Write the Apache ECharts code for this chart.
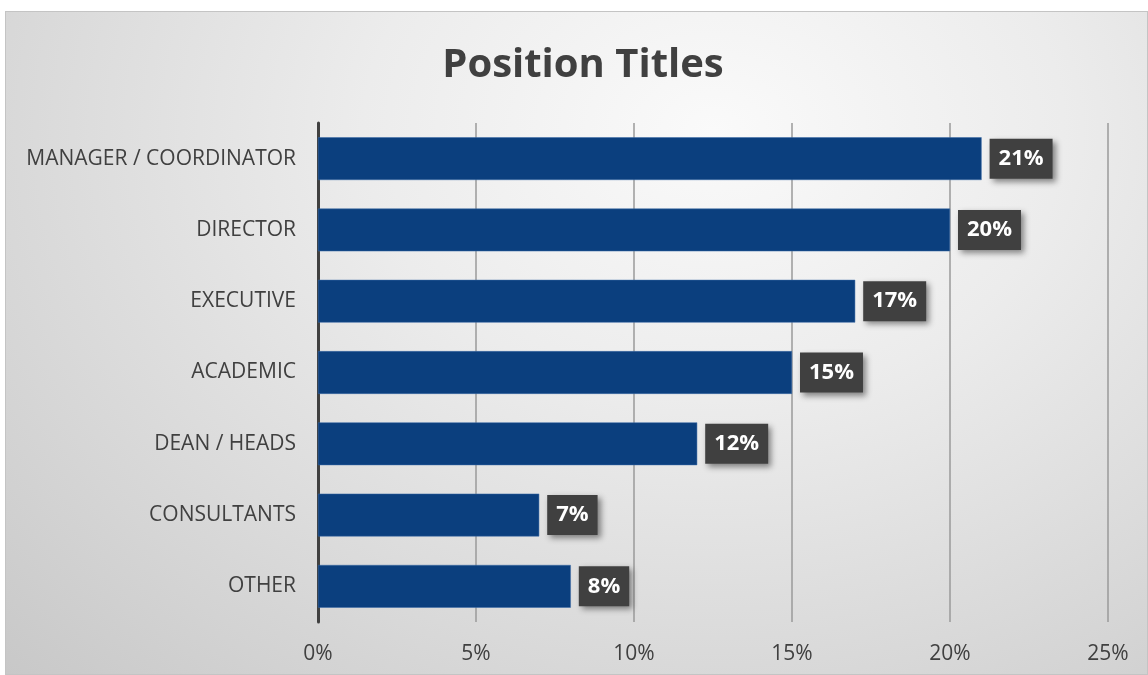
<!DOCTYPE html>
<html>
<head>
<meta charset="utf-8">
<script src="https://cdn.jsdelivr.net/npm/echarts@6/dist/echarts.min.js"></script>
<style>
html,body{margin:0;padding:0;background:#fff;}
#frame{position:absolute;left:5px;top:11px;width:1143px;height:664px;box-sizing:border-box;border:1px solid #c4c4c4;
background:radial-gradient(ellipse at 62% 18%, #fafafa 0%, #ececec 35%, #d6d6d6 75%, #c8c8c8 100%);}
#chart{position:absolute;left:0;top:0;width:1148px;height:675px;}
</style>
</head>
<body>
<div id="frame"></div>
<div id="chart"></div>
<script>
const categories = ["MANAGER / COORDINATOR","DIRECTOR","EXECUTIVE","ACADEMIC","DEAN / HEADS","CONSULTANTS","OTHER"];
const values = [21,20,17,15,12,7,8];
const xTicks = [0,5,10,15,20,25];

const chart = echarts.init(document.getElementById('chart'), null, {renderer:'canvas'});
chart.setOption({
  backgroundColor:'transparent',
  title:{text:'Position Titles',left:578,top:41,textAlign:'center',
    textStyle:{fontFamily:'Open Sans',fontWeight:'bold',fontSize:40,color:'#404040'}},
  grid:{left:318,right:40,top:123,bottom:53,containLabel:false},
  xAxis:{type:'value',min:0,max:25,interval:5,
    axisLine:{show:false},axisTick:{show:false},
    axisLabel:{formatter:v=>v+'%',fontFamily:'Open Sans',fontSize:21,color:'#404040',margin:22},
    splitLine:{show:true,lineStyle:{color:'#9a9a9a',width:1.5}}},
  yAxis:{type:'category',data:categories,inverse:true,
    axisLine:{show:true,lineStyle:{color:'#404040',width:3}},
    axisTick:{show:false},
    axisLabel:{fontFamily:'Open Sans',fontSize:21,color:'#404040',margin:22,padding:[4,0,0,0]}},
  series:[{type:'bar',data:values,barWidth:'60%',
    itemStyle:{color:'#0b3f7e',borderColor:'#3a6aa6',borderWidth:0.5},
    label:{show:true,position:'right',distance:8,formatter:p=>p.value+'%',
      fontFamily:'Open Sans',fontWeight:'bold',fontSize:22,color:'#ffffff',
      backgroundColor:'#404040',padding:[10,9,8,9],
      shadowColor:'rgba(0,0,0,0.45)',shadowBlur:6,shadowOffsetX:3,shadowOffsetY:3}
  }]
});
</script>
</body>
</html>
